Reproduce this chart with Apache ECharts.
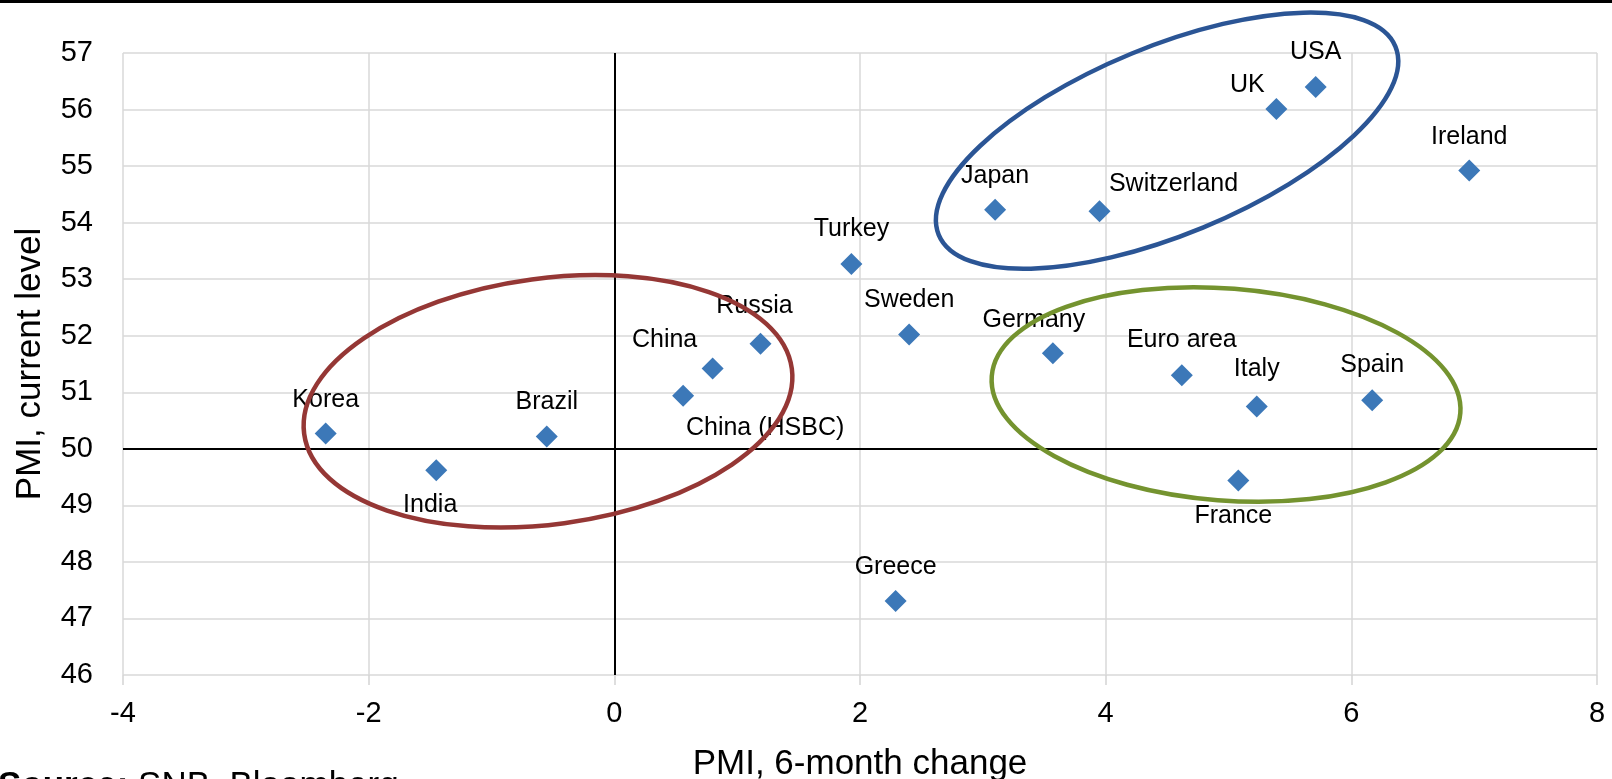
<!DOCTYPE html>
<html lang="en">
<head>
<meta charset="UTF-8">
<title>PMI scatter</title>
<style>
    * {
        margin: 0;
        padding: 0;
        box-sizing: border-box;
    }

    html,
    body {
        width: 100%;
        height: 100%;
        background: #fff;
        overflow: hidden;
    }

    #chart {
        width: 1612px;
        height: 779px;
    }
</style>
</head>
<body>
<div id="chart"></div>
<script src="https://cdn.jsdelivr.net/npm/echarts@6/dist/echarts.min.js"></script>
<script>
    // data
    var countries = ['Korea', 'India', 'Brazil', 'China (HSBC)', 'China', 'Russia', 'Turkey', 'Sweden', 'Greece',
        'Japan', 'Switzerland', 'Germany', 'Euro area', 'Italy', 'France', 'Spain', 'UK', 'USA', 'Ireland'];
    var pmiChange = [-2.35, -1.45, -0.55, 0.56, 0.80, 1.19, 1.93, 2.40, 2.29,
        3.10, 3.95, 3.57, 4.62, 5.23, 5.08, 6.17, 5.39, 5.71, 6.96];
    var pmiLevel = [50.27, 49.62, 50.22, 50.94, 51.42, 51.86, 53.27, 52.02, 47.31,
        54.23, 54.20, 51.69, 51.30, 50.75, 49.44, 50.86, 56.01, 56.40, 54.92];

    // axis ranges: [min, max, step]
    var xRange = [-4, 8, 2];
    var yRange = [46, 57, 1];
    var crossX = 0;   // vertical black line
    var crossY = 50;  // horizontal black line

    // where each label sits relative to its marker (px)
    var labelOffset = {
        'Korea': [0, -33], 'India': [-6, 35], 'Brazil': [0, -34], 'China (HSBC)': [82, 32],
        'China': [-48, -28], 'Russia': [-6, -38], 'Turkey': [0, -35], 'Sweden': [0, -34],
        'Greece': [0, -34], 'Japan': [0, -34], 'Switzerland': [74, -27], 'Germany': [-19, -33],
        'Euro area': [0, -35], 'Italy': [0, -37], 'France': [-5, 36], 'Spain': [0, -35],
        'UK': [-29, -24], 'USA': [0, -35], 'Ireland': [0, -34]
    };

    // hand drawn rings: centre in data units, radii in px, tilt in degrees
    var rings = [
        { center: [-0.54, 50.84], rx: 246, ry: 123, tilt: 7.6, color: '#953735' },
        { center: [4.50, 55.45], rx: 247, ry: 94, tilt: 22.4, color: '#2B5595' },
        { center: [4.98, 50.96], rx: 235, ry: 106, tilt: -4.5, color: '#74932F' }
    ];

    var font = "'Liberation Sans', Arial, sans-serif";

    var points = countries.map(function (name, i) {
        return {
            name: name,
            value: [pmiChange[i], pmiLevel[i]],
            label: { offset: labelOffset[name] }
        };
    });

    var chart = echarts.init(document.getElementById('chart'));

    chart.setOption({
        animation: false,
        backgroundColor: '#fff',
        grid: {
            left: 123,
            right: 15,
            top: 53,
            bottom: 104,
            outerBoundsMode: 'none'
        },
        xAxis: {
            type: 'value',
            min: xRange[0],
            max: xRange[1],
            interval: xRange[2],
            name: 'PMI, 6-month change',
            nameLocation: 'middle',
            nameGap: 72,
            nameTextStyle: { fontFamily: font, fontSize: 35, color: '#000' },
            axisLine: { show: false },
            axisTick: { show: true, length: 10, lineStyle: { color: '#d4d4d4', width: 1.5 } },
            axisLabel: { fontFamily: font, fontSize: 29, color: '#000', margin: 24 },
            splitLine: { lineStyle: { color: '#d9d9d9', width: 1.5 } }
        },
        yAxis: {
            type: 'value',
            min: yRange[0],
            max: yRange[1],
            interval: yRange[2],
            name: 'PMI, current level',
            nameLocation: 'middle',
            nameGap: 75,
            nameTextStyle: { fontFamily: font, fontSize: 35, color: '#000' },
            axisLine: { show: false },
            axisTick: { show: false },
            axisLabel: { fontFamily: font, fontSize: 29, color: '#000', margin: 30 },
            splitLine: { lineStyle: { color: '#d9d9d9', width: 1.5 } }
        },
        series: [{
            type: 'scatter',
            symbol: 'diamond',
            symbolSize: 22,
            itemStyle: { color: '#3C78B8', opacity: 1 },
            label: {
                show: true,
                position: 'inside',
                formatter: '{b}',
                fontFamily: font,
                fontSize: 25,
                color: '#000'
            },
            markLine: {
                silent: true,
                symbol: ['none', 'none'],
                label: { show: false },
                lineStyle: { color: '#000', width: 2, type: 'solid' },
                data: [{ xAxis: crossX }, { yAxis: crossY }]
            },
            data: points,
            z: 3
        }]
    });

    // rings and frame bits drawn after the grid is known
    var graphics = rings.map(function (r) {
        var c = chart.convertToPixel({ gridIndex: 0 }, r.center);
        return {
            type: 'ellipse',
            x: c[0],
            y: c[1],
            rotation: r.tilt * Math.PI / 180,
            shape: { cx: 0, cy: 0, rx: r.rx, ry: r.ry },
            style: { fill: 'none', stroke: r.color, lineWidth: 4.5 },
            silent: true,
            z: 10
        };
    });

    graphics.push({
        type: 'rect',
        shape: { x: 0, y: 0, width: 1612, height: 3 },
        style: { fill: '#000' },
        silent: true
    });

    graphics.push({
        type: 'text',
        x: -2,
        y: 769,
        style: {
            text: '{b|Source:} SNB, Bloomberg',
            fontFamily: font,
            fontSize: 35,
            fill: '#000',
            verticalAlign: 'top',
            rich: {
                b: { fontFamily: font, fontSize: 35, fontWeight: 'bold', fill: '#000' }
            }
        },
        silent: true
    });

    chart.setOption({ graphic: graphics });
</script>
</body>
</html>
